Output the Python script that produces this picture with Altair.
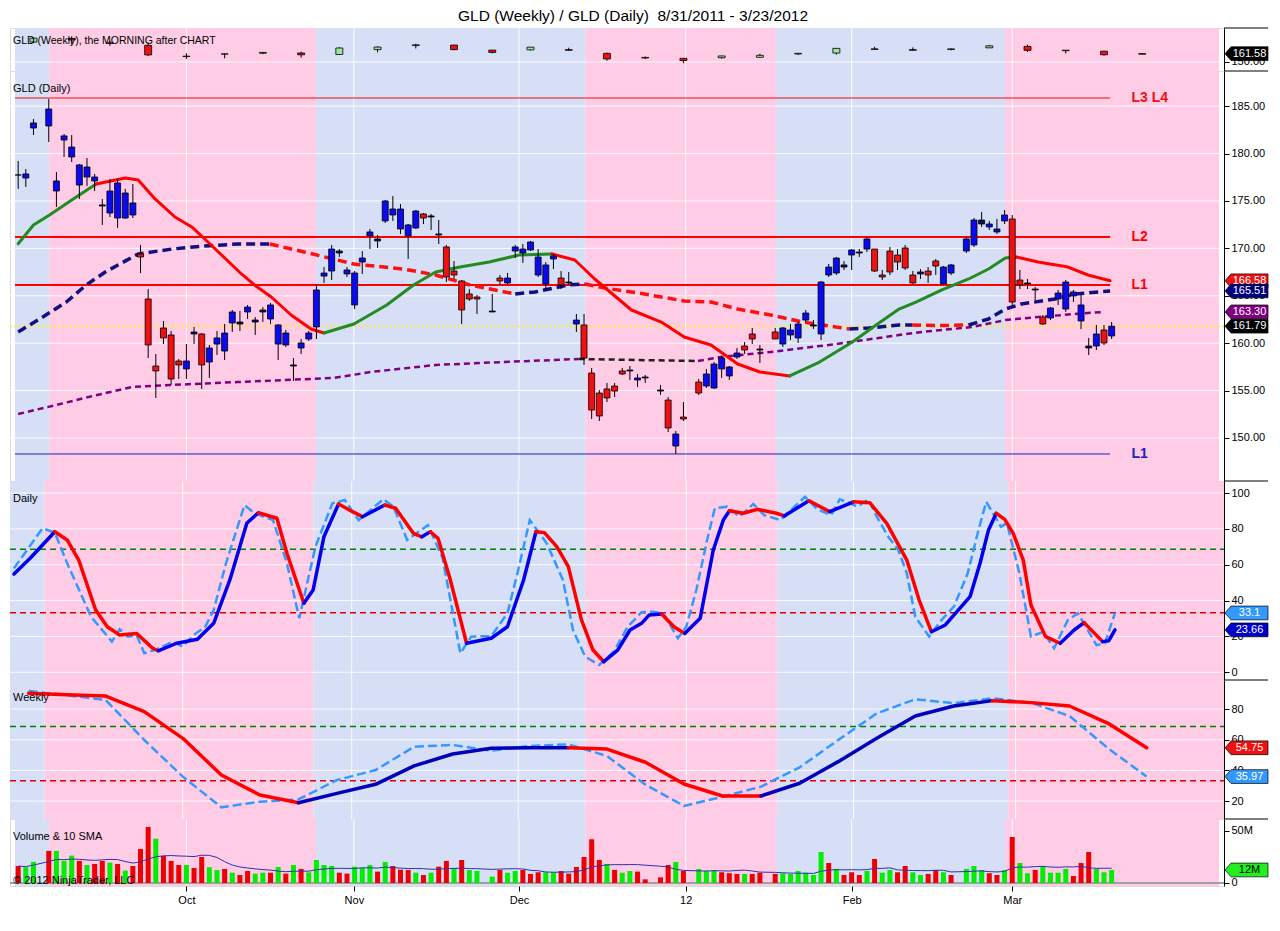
import altair as alt
import pandas as pd

FONT = "Liberation Sans, Arial, sans-serif"
NARROW = "Liberation Sans Narrow, Liberation Sans, Arial, sans-serif"
TITLE = "GLD (Weekly) / GLD (Daily)\u00a0 8/31/2011 - 3/23/2012"

# ---------------- data ----------------
GAPS = [3, 61, 83, 88, 98, 123]          # holiday slots left empty on the chart

O = [177.74,177.42,182.70,182.91,176.05,181.43,179.64,176.68,177.53,177.11,
     174.58,173.73,173.20,173.20,173.52,169.41,164.66,157.59,161.60,160.86,
     158.12,157.28,161.18,160.97,158.01,159.91,159.17,162.13,162.23,163.29,
     162.44,163.50,162.55,159.91,159.81,157.70,159.49,160.44,161.71,167.08,
     167.61,169.72,167.30,164.03,168.56,171.31,170.99,172.89,173.52,172.04,
     171.31,172.15,173.63,173.42,171.52,170.15,167.61,166.56,165.19,164.87,
     163.39,166.87,166.35,169.72,169.51,169.83,167.19,166.24,168.88,166.87,
     166.45,162.02,161.92,156.85,154.74,155.17,155.48,157.07,157.17,156.12,
     156.43,155.06,154.00,149.15,152.21,155.90,155.48,155.27,157.28,156.54,
     158.54,159.70,160.97,159.38,161.18,159.91,160.86,160.55,162.44,161.92,
     160.97,167.19,167.40,168.25,169.30,169.62,169.93,169.93,167.19,169.72,
     169.30,170.04,167.19,167.51,167.61,168.67,166.24,167.40,169.72,170.36,
     172.99,172.26,171.73,172.89,173.10,166.66,166.35,165.71,162.76,162.66,
     164.66,163.60,164.98,162.34,159.70,159.70,161.39,160.76]
H = [179.22,178.37,183.65,185.76,178.06,182.07,181.96,178.90,179.53,177.85,
     175.21,177.32,177.32,176.27,176.79,170.36,165.71,158.86,162.34,161.28,
     158.33,159.91,161.71,161.07,159.81,161.28,162.02,163.50,163.39,164.03,
     162.76,163.81,164.24,162.02,161.39,158.43,160.44,161.28,166.24,168.03,
     170.36,169.93,168.03,167.61,169.72,172.04,171.41,175.10,175.52,174.68,
     172.57,174.05,173.73,173.63,172.99,170.36,168.67,166.66,165.71,165.08,
     165.19,167.19,167.40,170.36,170.46,170.78,169.93,168.56,169.41,167.61,
     167.51,163.08,163.08,157.38,155.06,155.80,155.80,157.38,157.59,156.75,
     156.64,155.59,154.32,150.73,153.79,156.22,157.28,158.01,158.65,157.59,
     159.49,160.12,161.60,159.81,161.60,161.71,162.02,162.23,163.50,162.44,
     166.56,168.35,169.09,168.67,169.93,169.93,171.20,169.93,167.72,170.15,
     169.93,170.36,167.61,167.82,168.03,168.88,168.14,168.35,171.20,173.20,
     173.84,172.89,173.10,174.05,173.52,167.72,166.77,165.92,162.97,163.81,
     165.61,166.66,165.61,165.08,160.55,161.92,161.92,162.23]
L = [176.27,176.48,181.96,181.22,174.37,179.64,179.11,175.21,176.58,176.05,
     172.47,173.31,172.15,173.10,173.20,167.40,158.43,154.22,159.91,155.59,
     156.22,156.22,159.91,155.17,156.33,158.75,158.22,161.18,161.28,162.55,
     160.86,162.23,162.02,158.22,159.60,156.01,158.86,160.23,160.44,166.35,
     166.66,169.09,166.98,163.60,167.30,169.93,170.04,172.68,172.89,171.52,
     168.88,172.04,172.57,171.94,170.46,166.45,166.77,162.02,164.45,163.08,
     163.29,166.14,166.24,168.98,168.46,169.72,166.98,165.50,167.82,165.71,
     166.14,161.18,157.70,152.00,151.79,153.79,154.32,156.64,156.12,155.38,
     155.80,154.53,150.63,148.31,151.79,154.53,155.27,155.17,156.33,156.12,
     158.33,158.86,159.91,157.91,160.44,159.60,160.33,160.02,162.23,161.49,
     160.33,166.98,167.19,167.72,167.72,169.09,169.62,167.51,166.66,167.19,
     167.72,167.72,166.14,166.77,166.35,167.19,166.14,167.19,169.51,170.15,
     172.26,171.94,171.52,172.57,164.03,165.71,165.71,164.55,161.92,162.44,
     164.03,163.29,164.34,161.49,158.75,159.28,159.81,160.44]
C = [177.74,177.85,183.23,184.70,177.11,181.86,180.69,178.80,178.58,177.53,
     174.47,176.05,176.90,175.84,174.79,169.09,159.81,157.07,160.55,156.22,
     157.70,158.12,160.97,157.70,159.49,160.55,161.07,163.29,162.02,163.81,
     162.23,163.29,164.03,161.92,161.07,157.59,160.02,161.07,165.61,167.40,
     169.93,169.51,167.72,167.40,168.98,171.73,170.78,175.00,174.15,174.15,
     172.47,173.94,173.20,173.31,171.41,166.98,167.19,163.50,164.66,164.66,
     163.29,166.56,166.87,170.15,169.93,170.67,169.09,168.25,169.20,166.14,
     166.35,162.44,158.43,152.95,152.32,154.22,154.95,156.75,157.07,156.33,
     156.33,154.95,151.05,150.42,152.00,154.74,156.75,157.80,158.43,157.49,
     158.96,159.28,160.44,159.28,160.44,161.60,161.39,162.02,163.18,161.81,
     166.45,168.03,168.98,168.03,169.83,169.51,170.99,167.61,166.98,167.51,
     168.56,167.93,166.35,167.30,167.19,168.14,168.03,168.25,170.99,172.99,
     172.57,172.57,172.04,173.52,164.34,166.14,166.24,165.61,162.02,163.71,
     165.29,166.45,165.40,164.03,159.49,160.97,160.02,161.79]
KIND = ("dbbbbbbbbbdbbbb" "rrrrrr" "bdrbbbbdbd" "dbbbdbbbbb" "dbbbbdbbbb"
        "brddrrrrrd" "rbbbbbbbrd" "brrrrrrdbd" "drbrrbbbbb" "rrdrbbbbdb"
        "bbdbdbrrrr" "rrdrrbbbbd" "bbbrrddrbb" "bbbdbrb")

VOL = [16.3,15.1,20.2,
       30.8,30.8,21.2,26.3,21.2,17.3,18.3,21.2,19.6,18.3,11.9,16.3,32.7,53.8,42.6,26.0,
       21.2,17.3,17.3,14.4,25.0,15.1,12.5,13.5,9.9,7.7,11.5,9.0,9.9,9.9,15.4,9.0,17.3,
       13.5,10.3,22.1,17.3,16.3,9.9,9.0,15.7,14.4,17.3,10.9,20.2,16.3,12.8,12.5,9.9,7.7,
       9.9,15.7,21.2,14.4,22.1,12.5,11.5,
       6.1,12.5,9.9,11.5,12.5,8.7,10.3,10.3,10.3,11.5,9.0,15.4,25.0,42.0,22.1,18.3,12.5,
       9.9,11.5,10.9,3.5,
       5.4,17.3,20.2,11.5,
       13.5,11.5,12.5,10.3,9.4,8.7,8.7,8.7,9.9,
       8.7,9.4,8.7,11.5,9.9,7.7,29.8,19.2,13.5,7.7,10.3,7.7,11.5,23.1,9.9,12.5,10.3,16.3,
       10.3,7.7,8.7,12.5,10.3,7.7,
       13.5,16.3,12.5,9.4,7.7,12.5,44.2,19.2,9.4,12.5,16.3,9.9,9.9,13.5,6.7,19.2,29.8,
       13.5,10.3,12.5]
VOL_DIR = ("rgg" "rgggrgrrgr" "grrrgrrrgr" "rggrgrrggr" "grgrggggrr" "gggrgrrrgr" "grrgrgg"
           "grggrrrggrrrrrrgrggrr" "rrgr" "gggrrrgrr" "rggggggrgrrrgrggrrggrrgr"
           "gggrrgrggrggggrrrggg")

# moving averages on the daily panel (slot, value, colour code per point)
MA1_X = [0,2.0,4.1,7.2,10.2,14.0,15.7,17.9,20.5,22.7,24.4,26.6,29.2,30.9,33.1,35.7,38.3,
         40.0,43.9,48.2,51.7,54.6,57.8,61.6,65.5,69.8,72.8,75.4,80.2,84.1,87.1,90.6,94.1,
         97.0,100.9,104.8,109.1,112.2,115.2,117.4,120.8,124.3,126.9,129.1,130.5,133.4,
         137.3,139.9,142.8]
MA1_Y = [170.49,172.46,173.52,175.21,176.79,177.42,177.21,175.21,173.31,172.26,170.99,
         169.30,167.30,166.14,164.87,162.97,161.49,161.07,162.02,164.03,166.14,167.51,
         168.03,168.56,169.30,169.41,168.77,166.77,163.50,162.23,160.65,159.81,157.80,
         156.96,156.54,158.01,160.12,161.92,163.60,164.34,165.61,166.77,167.82,168.98,
         169.09,168.56,168.03,167.19,166.58]
MA1_C = "gggg" + "r" * 13 + "g" * 8 + "r" * 9 + "g" * 10 + "r" * 5

MA2_X = [0,2.8,6.3,8.9,11.4,15.7,20.1,24.4,28.7,32.9,37.4,43.9,50.4,54.6,59.1,65.0,67.6,
         72.0,74.1,76.7,81.1,87.1,90.6,94.1,98.4,102.6,108.7,111.3,115.2,116.9,121.0,
         124.3,126.9,129.1,131.2,135.6,138.2,142.8]
MA2_Y = [161.18,162.55,164.34,166.14,167.51,169.41,169.93,170.25,170.46,170.46,169.62,
         168.35,167.82,167.19,166.14,165.19,165.40,166.14,166.24,165.82,165.29,164.45,
         164.34,163.60,162.97,162.23,161.49,161.60,161.92,161.92,161.86,161.92,162.55,
         163.60,164.13,164.66,165.19,165.51]
MA2_C = "n" * 9 + "r" * 6 + "n" * 3 + "r" * 8 + "n" * 3 + "r" * 2 + "n" * 7

MA3_X = [0,5.0,9.2,14.9,20.1,28.7,41.3,46.1,54.6,63.3,73.3,81.1,88.9,91.9,98.4,107.0,
         115.2,118.2,124.7,129.1,133.4,138.2,142.1]
MA3_Y = [152.53,153.48,154.32,155.38,155.59,155.90,156.33,156.96,157.70,158.01,158.33,
         158.22,158.12,158.54,159.07,159.91,160.86,161.18,161.70,162.44,162.76,163.08,
         163.30]
MA3_C = "p" * 10 + "k" * 2 + "p" * 11

# price levels
LEVELS = [185.86, 171.2, 166.14, 148.31]
LEVEL_NAMES = ["L3 L4", "L2", "L1", "L1"]

# daily stochastics
DS_X = [0.1,2.2,5.4,7.0,8.5,10.7,12.2,13.8,16.0,18.1,18.8,21.2,23.9,26.0,28.1,30.3,
        31.8,34.2,35.5,37.7,38.9,40.3,42.2,44.0,45.3,48.2,49.6,51.9,53.0,54.1,55.1,56.7,
        58.8,62.0,64.1,66.2,67.8,68.9,70.5,72.0,73.7,75.2,76.6,78.4,80.0,81.5,82.5,
        84.1,85.7,87.1,89.1,90.8,92.1,92.9,94.7,96.5,99.0,100.0,103.2,105.9,109.0,111.1,
        113.3,115.9,117.5,119.1,120.9,122.2,124.1,125.4,126.5,127.5,128.6,129.7,131.0,
        132.0,133.9,135.8,137.6,138.9,141.3,142.1,142.9]
DS_Y = [54.8,63.6,78.4,73.8,62.6,34.7,25.4,20.8,21.7,13.4,12.0,16.2,18.4,27.3,51.5,83.1,
        89.0,85.9,66.4,38.5,45.9,75.6,93.9,89.6,86.8,93.3,91.5,77.5,75.6,78.4,74.7,51.5,
        16.2,19.0,25.4,51.5,78.4,77.9,70.1,58.9,29.2,12.4,5.9,12.4,23.6,27.3,32.0,
        32.5,25.4,21.7,30.1,68.2,84.9,90.1,88.7,90.9,88.7,87.2,95.7,89.6,95.1,94.6,
        83.1,62.6,40.3,22.6,26.4,32.9,42.2,60.8,79.4,88.7,85.3,77.5,62.6,37.5,19.9,
        16.2,23.6,27.7,17.1,17.6,23.66]
DS_C = ("bb" "rrrrrrrr" "bbbbbb" "rrr" "bbb" "rr" "b" "rrr" "b" "rrr" "bbbb" "rrrrrr"
        "bbbbb" "rr" "bbbb" "rrrr" "b" "r" "b" "rrrrr" "bbbbbb" "rrrrrr" "bb" "r" "bbb")
DK_X = [0.1,3.8,5.4,7.0,10.1,12.8,13.8,14.9,16.0,17.0,18.6,20.7,22.0,23.4,24.9,26.0,27.6,
        30.0,31.3,33.7,35.5,37.1,39.2,41.4,43.0,44.8,48.0,49.3,51.1,53.8,55.7,58.0,59.4,
        62.0,64.1,65.4,67.0,69.2,71.3,72.6,74.2,76.0,77.9,79.7,81.5,83.1,84.4,86.2,87.3,
        88.6,90.0,91.0,92.6,94.2,96.0,97.4,99.5,102.7,104.3,106.1,107.2,108.5,109.5,
        110.9,111.9,113.5,114.8,115.9,117.0,118.8,120.4,122.0,123.8,125.2,126.2,128.1,
        128.9,130.5,132.0,133.6,135.0,136.8,138.1,140.5,141.6,142.9]
DK_Y = [58.0,80.3,77.9,60.8,31.0,17.1,24.0,19.9,20.8,10.6,12.8,17.1,14.3,20.8,25.4,34.7,
        60.8,93.3,88.7,84.9,60.8,30.1,70.1,94.3,96.1,84.9,96.5,92.4,73.8,82.1,63.6,10.6,
        19.9,20.2,32.9,55.2,84.9,71.9,51.5,23.6,8.7,4.1,11.5,25.4,33.5,33.8,32.5,19.0,
        25.4,45.9,73.8,91.5,92.4,86.8,93.9,87.7,84.9,97.9,90.9,87.7,96.5,94.3,92.4,96.5,
        87.7,75.6,68.2,55.2,31.0,19.9,29.2,36.6,55.2,79.4,95.1,81.2,83.1,55.2,19.9,22.6,
        13.4,29.2,32.9,15.2,16.2,33.1]

# weekly stochastics (one value per week)
WS = [90.3,89.4,88.5,78.3,60.9,37.0,23.9,18.9,25.0,30.9,42.9,50.7,54.4,54.8,54.8,53.9,
      45.3,31.1,23.3,23.3,31.6,45.7,60.9,75.5,82.0,85.5,84.2,82.0,70.7,54.75]
WS_C = "rrrrrrr" "bbbbbbb" "rrrrr" "bbbbbb" "rrrrr"
WK = [91.8,89.0,85.9,59.8,35.9,15.9,19.6,21.1,33.7,40.2,55.4,56.6,52.8,55.9,57.0,49.4,
      30.7,16.8,22.8,29.4,42.0,59.8,77.2,86.4,83.8,87.0,84.2,75.5,54.4,35.97]
STOCH_LEVELS = [68.7, 33.2]

WEEKLY_LAST = 161.58
MONTH_TICKS = [22.0, 43.9, 65.5, 87.3, 109.0, 130.0]
MONTH_LABELS = ["Oct", "Nov", "Dec", "12", "Feb", "Mar"]
BAND_EDGES = [4.05, 38.95, 74.2, 99.1, 129.05]

# ---------------- layout / style ----------------
W = 1214
RIGHT = 44                      # room right of the plot for the price axis
D0, D1 = -0.415, 157.04
XS = alt.Scale(domain=[D0, D1], nice=False, zero=False)
H_TOP, H_MAIN, H_DS, H_WS, H_VOL = 43, 410, 199, 139, 67
PINK, BLUE = "#FFCCE6", "#D6DFF5"
BOX_PATH = "M-1,0L-0.72,-0.32L1,-0.32L1,0.32L-0.72,0.32Z"
BOX_W = 43

slots, s = [], 0
for _ in O:
    while s in GAPS:
        s += 1
    slots.append(s)
    s += 1

KCOL = {"b": "#0A0AF0", "r": "#F01010", "d": "#101050"}
daily = pd.DataFrame({"slot": slots, "o": O, "h": H, "l": L, "c": C,
                      "col": [KCOL[k] for k in KIND]})

wk = daily.assign(w=(daily["slot"] + 2) // 5).groupby("w").agg(
    o=("o", "first"), h=("h", "max"), l=("l", "min"), c=("c", "last")).reset_index()
wk["x"] = wk["w"] * 5 + 2
wk["col"] = ["#99E699" if c >= o else "#EE1111" for o, c in zip(wk["o"], wk["c"])]

vol = pd.DataFrame({"slot": slots, "v": VOL,
                    "col": ["#00EE00" if d == "g" else "#EE0000" for d in VOL_DIR]})


def seg_rows(xs, ys, cs, cmap):
    rows, start, seg, n = [], 0, 0, len(xs)
    for i in range(1, n):
        if cs[i] != cs[start] or i == n - 1:
            for j in range(start, i + 1):
                rows.append({"x": xs[j], "y": ys[j], "c": cmap[cs[start]], "s": seg, "o": j})
            seg += 1
            start = i
    return pd.DataFrame(rows)


def xq(field, xaxis=None):
    return alt.X(field, type="quantitative", scale=XS, axis=xaxis)


def yax(values, fmt=None, expr=None):
    kw = dict(orient="right", values=values, tickSize=5, labelFontSize=11, labelFont=FONT,
              labelColor="black", tickColor="black", domainColor="black", grid=False,
              title=None, labelPadding=2)
    if fmt:
        kw["format"] = fmt
    if expr:
        kw["labelExpr"] = expr
    return alt.Axis(**kw)


def common(h, xaxis=None):
    bx0 = [D0] + BAND_EDGES
    bx1 = BAND_EDGES + [D1]
    bdf = pd.DataFrame({"x0": bx0, "x1": bx1,
                        "c": [BLUE if i % 2 == 0 else PINK for i in range(len(bx0))]})
    bands = alt.Chart(bdf).mark_rect().encode(
        x=xq("x0:Q", xaxis), x2="x1:Q", y=alt.value(0), y2=alt.value(h),
        color=alt.Color("c:N", scale=None))
    vg = alt.Chart(pd.DataFrame({"t": MONTH_TICKS})).mark_rule(
        color="white", strokeWidth=1, opacity=0.9).encode(
        x=xq("t:Q", xaxis), y=alt.value(0), y2=alt.value(h))
    sep = alt.Chart(pd.DataFrame({"a": [0]})).mark_rule(color="black", strokeWidth=1).encode(
        x=alt.value(W), x2=alt.value(W + RIGHT), y=alt.value(0))
    return [bands, vg, sep]


def hgrid(vals, ys):
    return alt.Chart(pd.DataFrame({"v": vals})).mark_rule(
        color="white", strokeWidth=1, opacity=0.85).encode(
        y=alt.Y("v:Q", scale=ys[0], axis=ys[1]), x=alt.value(0), x2=alt.value(W))


def label(text, y, size=11):
    return alt.Chart(pd.DataFrame({"t": [text]})).mark_text(
        align="left", baseline="middle", font=FONT, fontSize=size, color="black").encode(
        x=alt.value(3), y=alt.value(y), text="t:N")


def boxes(vals, texts, fills, tcols, ys):
    df = pd.DataFrame({"v": vals, "t": texts, "f": fills, "tc": tcols})
    b = alt.Chart(df).mark_point(shape=BOX_PATH, size=BOX_W * BOX_W, filled=True, opacity=1,
                                 stroke="black", strokeWidth=0.7).encode(
        x=alt.value(W + 1 + BOX_W / 2), y=alt.Y("v:Q", scale=ys[0], axis=ys[1]),
        fill=alt.Fill("f:N", scale=None))
    t = alt.Chart(df).mark_text(font=FONT, fontSize=11, align="center",
                                baseline="middle").encode(
        x=alt.value(W + 4 + BOX_W / 2), y=alt.Y("v:Q", scale=ys[0], axis=ys[1]), text="t:N",
        color=alt.Color("tc:N", scale=None))
    return [b, t]


def seg_line(df, ys, width, dash=None):
    kw = dict(strokeWidth=width, strokeCap="round", strokeJoin="round")
    if dash:
        kw["strokeDash"] = dash
        kw["strokeCap"] = "butt"
    return alt.Chart(df).mark_line(**kw).encode(
        x=xq("x:Q"), y=alt.Y("y:Q", scale=ys[0], axis=ys[1]),
        color=alt.Color("c:N", scale=None), detail="s:N", order="o:Q")


# ---------------- top strip (weekly candles) ----------------
ys_top = (alt.Scale(domain=[137.4, 197.4], nice=False, zero=False), yax([150], ".2f"))
top = alt.layer(
    *common(H_TOP),
    hgrid([150], ys_top),
    alt.Chart(wk).mark_rule(color="black", strokeWidth=1).encode(
        x=xq("x:Q"), y=alt.Y("l:Q", scale=ys_top[0], axis=ys_top[1]), y2="h:Q"),
    alt.Chart(wk).mark_bar(size=7, stroke="black", strokeWidth=0.8).encode(
        x=xq("x:Q"), y=alt.Y("o:Q", scale=ys_top[0], axis=ys_top[1]), y2="c:Q",
        fill=alt.Fill("col:N", scale=None)),
    label("GLD (Weekly), the MORNING after CHART", 13, 10.5),
    *boxes([WEEKLY_LAST], [f"{WEEKLY_LAST:.2f}"], ["#000000"], ["white"], ys_top),
).properties(width=W, height=H_TOP)

# ---------------- main daily panel ----------------
MAIN_TICKS = [150, 155, 160, 165, 170, 175, 180, 185]
ys_main = (alt.Scale(domain=[145.46, 188.71], nice=False, zero=False), yax(MAIN_TICKS, ".2f"))
lev = pd.DataFrame({"v": LEVELS, "t": LEVEL_NAMES, "x0": D0, "x1": slots[-1] - 0.2,
                    "col": ["#EE1111", "#FF0000", "#FF0000", "#2020C0"],
                    "w": [1.2, 2, 2, 1]})
ma1 = seg_rows(MA1_X, MA1_Y, MA1_C, {"g": "#228B22", "r": "#FF0000"})
ma2 = seg_rows(MA2_X, MA2_Y, MA2_C, {"n": "#101080", "r": "#FF1010"})
ma3 = seg_rows(MA3_X, MA3_Y, MA3_C, {"p": "#800080", "k": "#202020"})
main = alt.layer(
    *common(H_MAIN),
    hgrid(MAIN_TICKS, ys_main),
    alt.Chart(lev).mark_rule().encode(
        x=xq("x0:Q"), x2="x1:Q", y=alt.Y("v:Q", scale=ys_main[0], axis=ys_main[1]),
        color=alt.Color("col:N", scale=None), strokeWidth=alt.StrokeWidth("w:Q", scale=None)),
    alt.Chart(pd.DataFrame({"v": [C[-1]]})).mark_rule(
        color="#FFE84D", strokeWidth=2, strokeDash=[2, 2]).encode(
        y=alt.Y("v:Q", scale=ys_main[0], axis=ys_main[1]), x=alt.value(0), x2=alt.value(W)),
    seg_line(ma3, ys_main, 2.5, [6, 4]),
    seg_line(ma2, ys_main, 3.5, [9, 5]),
    seg_line(ma1, ys_main, 3),
    alt.Chart(daily).mark_rule(color="black", strokeWidth=1).encode(
        x=xq("slot:Q"), y=alt.Y("l:Q", scale=ys_main[0], axis=ys_main[1]), y2="h:Q"),
    alt.Chart(daily).mark_bar(size=6, stroke="black", strokeWidth=0.8).encode(
        x=xq("slot:Q"), y=alt.Y("o:Q", scale=ys_main[0], axis=ys_main[1]), y2="c:Q",
        fill=alt.Fill("col:N", scale=None)),
    alt.Chart(lev).mark_text(align="left", baseline="middle", font=NARROW, fontSize=14,
                             fontWeight="bold").encode(
        x=alt.value(1121.5), y=alt.Y("v:Q", scale=ys_main[0], axis=ys_main[1]), text="t:N",
        color=alt.Color("col:N", scale=None)),
    label("GLD (Daily)", 18),
    *boxes([MA1_Y[-1], MA2_Y[-1], MA3_Y[-1], C[-1]],
           [f"{v:.2f}" for v in [MA1_Y[-1], MA2_Y[-1], MA3_Y[-1], C[-1]]],
           ["#EE1111", "#000080", "#800080", "#000000"], ["white"] * 4, ys_main),
).properties(width=W, height=H_MAIN)


# ---------------- stochastic panels ----------------
def stoch_panel(h, dom, ticks, kx, ky, dx, dy, dc, cmap, title, box_vals, box_fills):
    ys = (alt.Scale(domain=dom, nice=False, zero=False), yax(ticks, "d"))
    lv = pd.DataFrame({"v": STOCH_LEVELS, "col": ["#008000", "#DD0000"]})
    kdf = pd.DataFrame({"x": kx, "y": ky})
    ddf = seg_rows(dx, dy, dc, cmap)
    return alt.layer(
        *common(h),
        hgrid(ticks, ys),
        alt.Chart(lv).mark_rule(strokeWidth=1.5, strokeDash=[6, 4]).encode(
            y=alt.Y("v:Q", scale=ys[0], axis=ys[1]), x=alt.value(0), x2=alt.value(W),
            color=alt.Color("col:N", scale=None)),
        alt.Chart(kdf).mark_line(color="#3399FF", strokeWidth=2.5, strokeDash=[9, 4]).encode(
            x=xq("x:Q"), y=alt.Y("y:Q", scale=ys[0], axis=ys[1])),
        seg_line(ddf, ys, 3.5),
        label(title, 18),
        *boxes(box_vals, [f"{v:g}" for v in box_vals], box_fills, ["white", "white"], ys),
    ).properties(width=W, height=h)


dstoch = stoch_panel(H_DS, [-4.3, 106.7], [0, 20, 40, 60, 80, 100], DK_X, DK_Y,
                     DS_X, DS_Y, DS_C, {"b": "#0000EE", "r": "#FF0000"}, "Daily",
                     [DK_Y[-1], DS_Y[-1]], ["#3399FF", "#0000CC"])
wx = [5 * i + 2 for i in range(len(WS))]
wstoch = stoch_panel(H_WS, [8.28, 98.96], [20, 40, 60, 80], wx, WK,
                     wx, WS, WS_C, {"b": "#0000BB", "r": "#FF0000"}, "Weekly",
                     [WS[-1], WK[-1]], ["#EE1111", "#3399FF"])

# ---------------- volume panel ----------------
XAX = alt.Axis(values=MONTH_TICKS, labelExpr=f"{MONTH_LABELS}[indexof({MONTH_TICKS}, datum.value)]",
               tickSize=5, grid=False, domain=False, labelFontSize=11, labelFont=FONT,
               labelColor="black", tickColor="black", title=None, labelPadding=3)
ys_vol = (alt.Scale(domain=[-2.9, 61.5], nice=False, zero=False),
          yax([0, 50], None, "datum.value == 0 ? '0' : datum.value + 'M'"))
volp = alt.layer(
    *common(H_VOL, XAX),
    alt.Chart(pd.DataFrame({"v": [0]})).mark_rule(color="#A0A0A0", strokeWidth=2).encode(
        y=alt.Y("v:Q", scale=ys_vol[0], axis=ys_vol[1]), x=alt.value(0), x2=alt.value(W)),
    alt.Chart(vol).mark_bar(size=5).encode(
        x=xq("slot:Q", XAX), y=alt.Y("v:Q", scale=ys_vol[0], axis=ys_vol[1]),
        fill=alt.Fill("col:N", scale=None)),
    alt.Chart(vol).transform_window(sma="mean(v)", frame=[-9, 0],
                                    sort=[alt.SortField("slot")]).mark_line(
        color="#3030B0", strokeWidth=1).encode(
        x=xq("slot:Q", XAX), y=alt.Y("sma:Q", scale=ys_vol[0], axis=ys_vol[1])),
    label("Volume & 10 SMA", 18),
    label("\u00a9 2012 NinjaTrader, LLC", 62),
    *boxes([VOL[-1]], [f"{int(VOL[-1])}M"], ["#22EE22"], ["black"], ys_vol),
).properties(width=W, height=H_VOL)

chart = alt.vconcat(
    top, main, dstoch, wstoch, volp, spacing=0, bounds="flush",
    title=alt.TitleParams(TITLE, fontSize=15.5, font=FONT, fontWeight="normal",
                          anchor="middle", offset=3, color="black", frame="group", dx=16),
).properties(padding={"left": 0, "top": 0, "right": 0, "bottom": 0}
).configure_view(stroke="black", strokeWidth=1).configure(background="white")

chart.save("out.html", embed_options={"renderer": "svg", "actions": False})
